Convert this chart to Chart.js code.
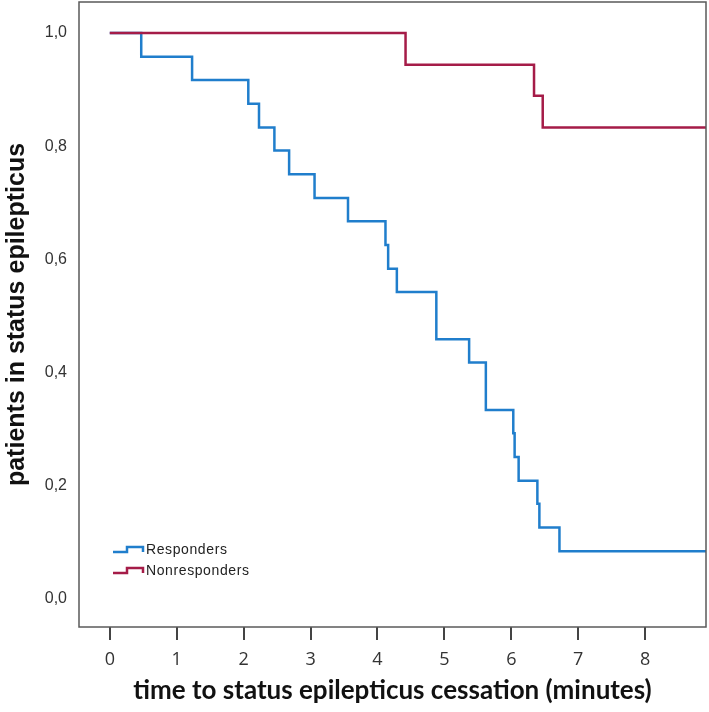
<!DOCTYPE html>
<html>
<head>
<meta charset="utf-8">
<script src="https://cdn.jsdelivr.net/npm/chart.js@4"></script>
<style>
  html, body { margin: 0; padding: 0; background: #fff; }
  #wrap { width: 709px; height: 712px; }
</style>
</head>
<body>
<div id="wrap"><canvas id="myChart" width="709" height="712"></canvas></div>
<script>
// Kaplan-Meier style step data
const respTimes = [0, 0.47, 1.23, 2.07, 2.23, 2.46, 2.68, 3.06, 3.56, 4.12, 4.16, 4.29, 4.88, 5.37, 5.62, 6.03, 6.05, 6.11, 6.39, 6.42, 6.72, 8.91];
const respValues = [1.0, 0.958, 0.917, 0.875, 0.833, 0.792, 0.75, 0.708, 0.667, 0.625, 0.583, 0.542, 0.458, 0.417, 0.333, 0.292, 0.25, 0.208, 0.167, 0.125, 0.083, 0.083];
const nonrespTimes = [0, 4.42, 6.34, 6.47, 8.91];
const nonrespValues = [1.0, 0.944, 0.889, 0.833, 0.833];
const xTicks = [0, 1, 2, 3, 4, 5, 6, 7, 8];
const yTicks = [0, 0.2, 0.4, 0.6, 0.8, 1.0];
const seriesNames = ["Responders", "Nonresponders"];

const blue = "rgb(32, 126, 204)";
const red = "rgb(165, 28, 72)";

function toPoints(xs, ys) {
  return xs.map((x, i) => ({ x: x, y: ys[i] }));
}

// frame around the plot + step-shaped legend inside the plot
const framePlugin = {
  id: "frame",
  afterDraw(chart) {
    const ctx = chart.ctx;
    const a = chart.chartArea;
    ctx.save();
    ctx.strokeStyle = "#5a5a5a";
    ctx.lineWidth = 1.5;
    ctx.strokeRect(a.left, a.top, a.right - a.left, a.bottom - a.top);

    // legend
    const colors = [blue, red];
    const rows = [549, 570];
    ctx.font = "14px 'Liberation Sans'";
    ctx.letterSpacing = "0.6px";
    ctx.textBaseline = "middle";
    ctx.fillStyle = "#222";
    seriesNames.forEach((name, i) => {
      const y = rows[i];
      ctx.strokeStyle = colors[i];
      ctx.lineWidth = 2.5;
      ctx.beginPath();
      ctx.moveTo(113, y + 3);
      ctx.lineTo(127, y + 3);
      ctx.lineTo(127, y - 2);
      ctx.lineTo(143, y - 2);
      ctx.lineTo(143, y + 3);
      ctx.stroke();
      ctx.fillText(name, 146, y + 1);
    });
    ctx.restore();
  },
};

function noEdgePadding(scale) {
  scale.paddingTop = 0;
  scale.paddingBottom = 0;
  scale.paddingLeft = 0;
  scale.paddingRight = 0;
}

let myGraph = new Chart(document.getElementById("myChart"), {
  type: "line",
  data: {
    datasets: [
      {
        label: seriesNames[0],
        data: toPoints(respTimes, respValues),
        borderColor: blue,
        borderWidth: 2.5,
        stepped: true,
        pointRadius: 0,
        fill: false,
        order: 1,
      },
      {
        label: seriesNames[1],
        data: toPoints(nonrespTimes, nonrespValues),
        borderColor: red,
        borderWidth: 2.5,
        stepped: true,
        pointRadius: 0,
        fill: false,
        order: 0,
      },
    ],
  },
  options: {
    responsive: false,
    animation: false,
    layout: { padding: { left: 0, right: 3, top: 2, bottom: 0 } },
    plugins: {
      legend: { display: false },
      tooltip: { enabled: false },
    },
    scales: {
      x: {
        type: "linear",
        min: -0.46,
        max: 8.91,
        afterBuildTicks: (scale) => {
          scale.ticks = xTicks.map((v) => ({ value: v }));
        },
        afterFit: (scale) => {
          scale.height = 85;
          noEdgePadding(scale);
        },
        border: { display: false },
        grid: {
          drawOnChartArea: false,
          drawTicks: true,
          tickLength: 13,
          color: "#444",
          lineWidth: 2,
        },
        ticks: {
          padding: 9,
          color: "#333",
          font: { family: "'Open Sans'", size: 18 },
        },
        title: {
          display: true,
          text: "time to status epilepticus cessation (minutes)",
          color: "#111",
          font: { family: "Lato", size: 26, weight: "bold" },
          padding: { top: 0, bottom: 6 },
        },
      },
      y: {
        type: "linear",
        min: -0.051,
        max: 1.055,
        afterBuildTicks: (scale) => {
          scale.ticks = yTicks.map((v) => ({ value: v }));
        },
        afterFit: (scale) => {
          scale.width = 79;
          noEdgePadding(scale);
        },
        border: { display: false },
        grid: { display: false, drawTicks: false },
        ticks: {
          padding: 12,
          color: "#333",
          font: { family: "'Liberation Sans'", size: 16 },
          callback: (v) => v.toFixed(1).replace(".", ","),
        },
        title: {
          display: true,
          text: "patients in status epilepticus",
          color: "#111",
          font: { family: "'Liberation Sans'", size: 25, weight: "bold" },
          padding: { top: 2, bottom: 0 },
        },
      },
    },
  },
  plugins: [framePlugin],
});
</script>
</body>
</html>
